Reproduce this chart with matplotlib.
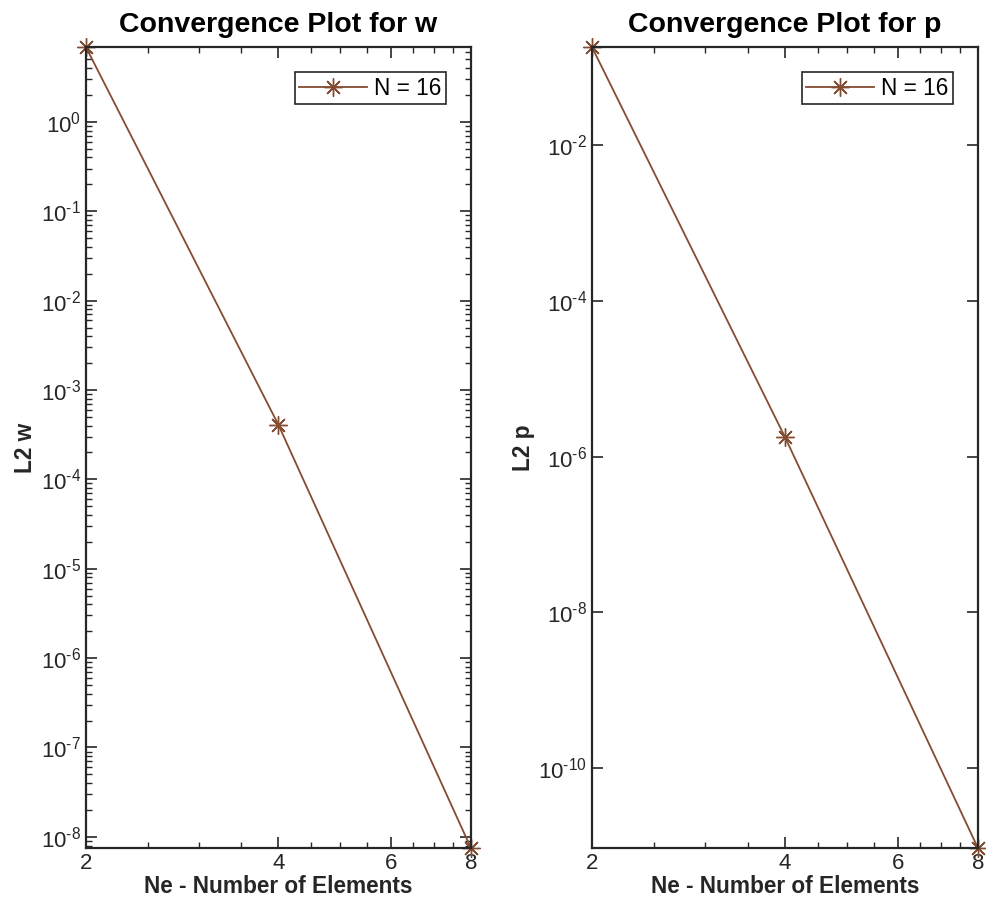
import numpy as np
import matplotlib.pyplot as plt
from matplotlib.ticker import FixedLocator, NullFormatter, FuncFormatter

plt.rcParams['font.family'] = ['Liberation Sans', 'DejaVu Sans']
plt.rcParams['mathtext.fontset'] = 'custom'
plt.rcParams['mathtext.rm'] = 'Liberation Sans'
plt.rcParams['axes.unicode_minus'] = False

# data
ne = [2, 4, 8]
l2_w = [6.85, 4.07e-4, 7.5e-9]
l2_p = [0.181, 1.78e-6, 9.4e-12]
label = 'N = 16'
col = '#844C31'

x_major = [2, 4, 6, 8]
x_minor = [2.5, 3, 3.5, 4.5, 5, 5.5, 6.5, 7, 7.5]

fig = plt.figure(figsize=(9.87, 9.09), dpi=100)
ax1 = fig.add_axes([0.0871, 0.0671, 0.390, 0.881])
ax2 = fig.add_axes([0.5998, 0.0671, 0.391, 0.881])


def pow_label(v, pos):
    k = int(round(np.log10(v)))
    if k < 0:
        return '$\\mathregular{10^{\\text{-}%d}}$' % (-k)
    return '$\\mathregular{10^{%d}}$' % k


def setup(ax, y, title, ylab, ystep, lpad):
    ax.loglog(ne, y, color=col, marker=(8, 2, 0), markersize=13, lw=1.3, label=label, clip_on=False)
    lo, hi = min(y), max(y)
    ax.set_xlim(ne[0], ne[-1])
    ax.set_ylim(lo, hi)
    ax.xaxis.set_major_locator(FixedLocator(x_major))
    ax.xaxis.set_minor_locator(FixedLocator(x_minor))
    ax.set_xticklabels([str(v) for v in x_major])
    ax.xaxis.set_minor_formatter(NullFormatter())
    major = [10.0 ** k for k in range(-12, 2, ystep) if lo <= 10.0 ** k <= hi]
    ax.yaxis.set_major_locator(FixedLocator(major))
    ax.yaxis.set_major_formatter(FuncFormatter(pow_label))
    if ystep == 1:
        minor = [m * 10.0 ** k for k in range(-12, 2) for m in range(2, 10)
                 if lo <= m * 10.0 ** k <= hi]
    else:
        minor = []
    ax.yaxis.set_minor_locator(FixedLocator(minor))
    ax.yaxis.set_minor_formatter(NullFormatter())
    ax.tick_params(which='both', direction='in', top=True, right=True, colors='#262626', labelsize=16)
    ax.tick_params(which='major', length=8, width=1.2)
    ax.tick_params(which='minor', length=4, width=1.0)
    for s in ax.spines.values():
        s.set_linewidth(1.6)
        s.set_color('#262626')
    ax.set_title(title, fontsize=20.5, fontweight='bold', pad=11)
    ax.set_xlabel('Ne - Number of Elements', fontsize=16.3, fontweight='bold', color='#262626', labelpad=1)
    ax.set_ylabel(ylab, fontsize=16.3, fontweight='bold', color='#262626', labelpad=lpad)
    leg = ax.legend(loc='upper right', fontsize=16.3, fancybox=False, framealpha=1,
                    edgecolor='#262626', borderaxespad=1.1, handlelength=3.0,
                    handletextpad=0.3, borderpad=0.2)
    leg.get_frame().set_linewidth(1.2)


setup(ax1, l2_w, 'Convergence Plot for w', 'L2 w', 1, 3)
setup(ax2, l2_p, 'Convergence Plot for p', 'L2 p', 2, 2)

fig.savefig('out.png', dpi=100)
